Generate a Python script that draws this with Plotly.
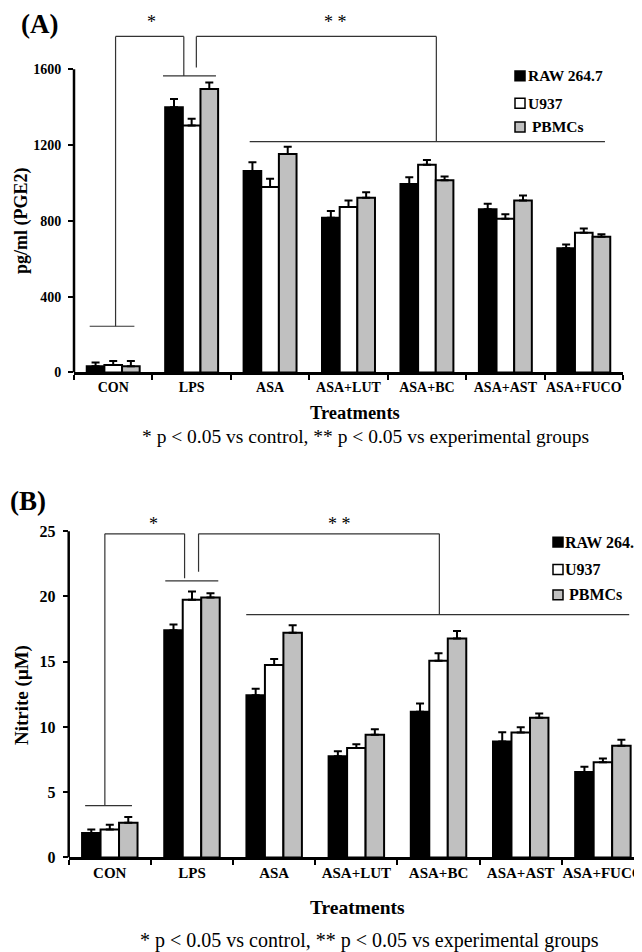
import plotly.graph_objects as go

# categories and series
categories = ["CON", "LPS", "ASA", "ASA+LUT", "ASA+BC", "ASA+AST", "ASA+FUCO"]
series_names = ["RAW 264.7", "U937", " PBMCs"]
series_colors = ["#000000", "#ffffff", "#c0c0c0"]

# (A) PGE2, pg/ml
pge2_raw = [33, 1400, 1064, 817, 995, 861, 656]
pge2_raw_err = [19, 43, 46, 35, 35, 29, 19]
pge2_u937 = [39, 1304, 979, 873, 1096, 812, 738]
pge2_u937_err = [21, 35, 43, 35, 26, 23, 22]
pge2_pbmc = [33, 1496, 1153, 922, 1014, 908, 717]
pge2_pbmc_err = [27, 35, 39, 29, 21, 26, 13]

# (B) Nitrite, uM
nitrite_raw = [1.87, 17.4, 12.42, 7.75, 11.16, 8.89, 6.54]
nitrite_raw_err = [0.26, 0.45, 0.5, 0.38, 0.63, 0.7, 0.4]
nitrite_u937 = [2.13, 19.74, 14.74, 8.38, 15.08, 9.57, 7.3]
nitrite_u937_err = [0.37, 0.64, 0.46, 0.3, 0.57, 0.4, 0.28]
nitrite_pbmc = [2.66, 19.92, 17.22, 9.39, 16.77, 10.7, 8.56]
nitrite_pbmc_err = [0.43, 0.33, 0.58, 0.43, 0.58, 0.33, 0.46]

pge2_ticks = [0, 400, 800, 1200, 1600]
nitrite_ticks = [0, 5, 10, 15, 20, 25]

# significance brackets (category index, value)
brackets_a = [
    [(0.03, 244), (0.03, 1774), (0.9, 1774), (0.9, 1565)],
    [(-0.3, 244), (0.27, 244)],
    [(0.635, 1565), (1.31, 1565)],
    [(1.06, 1610), (1.06, 1774), (4.12, 1774), (4.12, 1218)],
    [(1.74, 1218), (6.27, 1218)],
]
brackets_b = [
    [(-0.06, 3.96), (-0.06, 24.8), (0.91, 24.8), (0.91, 21.4)],
    [(-0.3, 3.96), (0.27, 3.96)],
    [(0.675, 21.2), (1.32, 21.2)],
    [(1.08, 21.9), (1.08, 24.8), (4.01, 24.8), (4.01, 18.6)],
    [(1.66, 18.6), (6.32, 18.6)],
]

footnote = "* p &lt; 0.05 vs control, ** p &lt; 0.05 vs experimental groups"

W, H = 642, 952
FONT = "Liberation Serif, Times New Roman, serif"


def px(x):
    return x / W


def py(y):
    return 1 - y / H


fig = go.Figure()

panels = [
    ("x", "y", [pge2_raw, pge2_u937, pge2_pbmc], [pge2_raw_err, pge2_u937_err, pge2_pbmc_err]),
    ("x2", "y2", [nitrite_raw, nitrite_u937, nitrite_pbmc],
     [nitrite_raw_err, nitrite_u937_err, nitrite_pbmc_err]),
]
for xa, ya, vals, errs in panels:
    for name, color, v, e in zip(series_names, series_colors, vals, errs):
        fig.add_trace(go.Bar(
            x=categories, y=v, name=name.strip(), xaxis=xa, yaxis=ya, showlegend=False,
            marker=dict(color=color, line=dict(color="black", width=2)),
            error_y=dict(type="data", symmetric=False, array=e, arrayminus=[0] * len(e),
                         color="black", thickness=2, width=4),
            hoverinfo="skip",
        ))

shapes = []
for xref, yref, brs in [("x", "y", brackets_a), ("x2", "y2", brackets_b)]:
    for br in brs:
        for (x0, y0), (x1, y1) in zip(br[:-1], br[1:]):
            shapes.append(dict(type="line", xref=xref, yref=yref, x0=x0, y0=y0, x1=x1, y1=y1,
                               line=dict(color="#333333", width=1.2)))

# y axis lines stop at the top tick
shapes.append(dict(type="line", xref="paper", yref="y", x0=px(66), x1=px(66), y0=0, y1=pge2_ticks[-1],
                   line=dict(color="black", width=2.5)))
shapes.append(dict(type="line", xref="paper", yref="y2", x0=px(60.7), x1=px(60.7), y0=0,
                   y1=nitrite_ticks[-1], line=dict(color="black", width=2.5)))

# legends (one per panel): swatch left edge, text left edge, row centres, font size
legends = [
    (507, 518, [66.7, 94.3, 118.3], 15.5),
    (545, 555, [538.3, 566, 591.7], 16),
]
annotations = []
for sx, tx, rows, fs in legends:
    for name, color, ry in zip(series_names, series_colors, rows):
        shapes.append(dict(type="rect", xref="paper", yref="paper",
                           x0=px(sx), x1=px(sx + 10), y0=py(ry + 5), y1=py(ry - 5),
                           fillcolor=color, line=dict(color="black", width=1.5)))
        annotations.append(dict(text="<b>%s</b>" % name, x=px(tx), y=py(ry), size=fs, xanchor="left"))

xaxis_common = dict(type="category", range=[-0.5, 6.5], showline=True, linecolor="black", linewidth=2.5,
                    ticks="outside", tickson="boundaries", ticklen=5, tickwidth=2, tickcolor="black",
                    tickangle=0, showgrid=False, zeroline=False, fixedrange=True)
yaxis_common = dict(showline=False, ticks="outside", ticklen=5, tickwidth=2, tickcolor="black",
                    showgrid=False, zeroline=False, ticklabelstandoff=4)

fig.update_layout(
    width=W, height=H, margin=dict(l=0, r=0, t=0, b=0),
    paper_bgcolor="white", plot_bgcolor="white",
    font=dict(family=FONT, color="black"),
    barmode="group", bargap=0.325, bargroupgap=0,
    shapes=shapes, showlegend=False,
    xaxis=dict(xaxis_common, domain=[px(66), px(615)], anchor="y",
               tickfont=dict(size=14, weight="bold")),
    yaxis=dict(yaxis_common, domain=[py(366.7), py(21.7)], range=[0, 1800], anchor="x",
               tickvals=pge2_ticks, tickfont=dict(size=14, weight="bold")),
    xaxis2=dict(xaxis_common, domain=[px(60.7), px(636)], anchor="y2",
                tickfont=dict(size=15, weight="bold")),
    yaxis2=dict(yaxis_common, domain=[py(857.3), py(520.7)], range=[0, 25.5], anchor="x2",
                tickvals=nitrite_ticks, tickfont=dict(size=16, weight="bold")),
)

annotations += [
    dict(text="<b>(A)</b>", x=px(31), y=py(14), size=27),
    dict(text="<b>(B)</b>", x=px(20), y=py(497), size=27),
    dict(text="*", x=px(143), y=py(0), size=18, yanchor="top"),
    dict(text="* *", x=px(327), y=py(0), size=18, yanchor="top"),
    dict(text="*", x=px(145), y=py(508), size=18, yanchor="top"),
    dict(text="* *", x=px(332), y=py(508), size=18, yanchor="top"),
    dict(text="<b>Treatments</b>", x=px(347), y=py(408), size=18.5),
    dict(text="<b>Treatments</b>", x=px(349), y=py(908), size=19.5),
    dict(text=footnote, x=px(358), y=py(431), size=19.5),
    dict(text=footnote, x=px(362), y=py(941), size=20),
    dict(text="<b>pg/ml (PGE2)</b>", x=px(1), y=py(213), size=18, angle=-90, xanchor="left"),
    dict(text="<b>Nitrite (μM)</b>", x=px(1), y=py(693), size=19, angle=-90, xanchor="left"),
]
for a in annotations:
    fig.add_annotation(text=a["text"], x=a["x"], y=a["y"], xref="paper", yref="paper",
                       xanchor=a.get("xanchor", "center"), yanchor=a.get("yanchor", "middle"),
                       showarrow=False, textangle=a.get("angle", 0),
                       font=dict(size=a["size"], family=FONT, color="black"))

fig.write_html("out.html")
